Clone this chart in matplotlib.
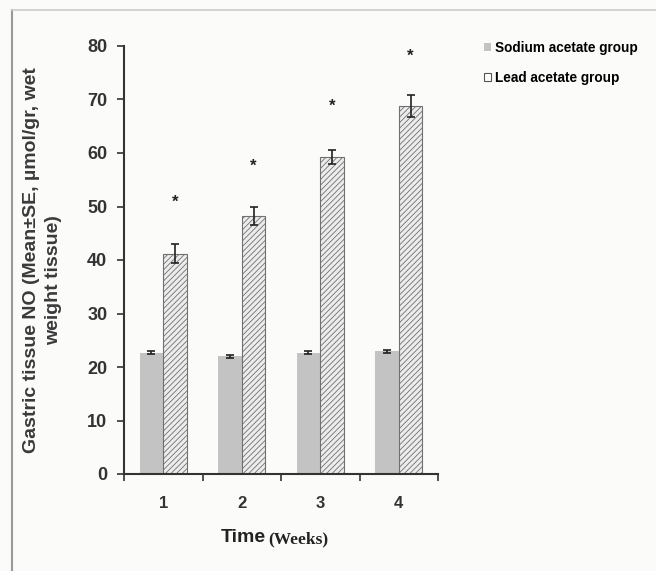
import numpy as np
import matplotlib
matplotlib.use("Agg")
import matplotlib.pyplot as plt
from matplotlib.patches import Patch
from matplotlib.lines import Line2D

# Daten
wochen = ["1", "2", "3", "4"]
natrium = [22.7, 22.0, 22.7, 22.9]
natrium_se = [0.3, 0.3, 0.3, 0.3]
blei = [41.2, 48.3, 59.2, 68.8]
blei_se = [1.7, 1.7, 1.3, 2.0]
stern_y = [50.7, 57.6, 68.8, 78.1]

plt.rcParams["font.family"] = ["Liberation Sans", "DejaVu Sans"]
plt.rcParams["hatch.color"] = "#b0b0b0"
plt.rcParams["hatch.linewidth"] = 0.6

bg = "#fbfbf9"
fig = plt.figure(figsize=(6.56, 5.71), dpi=100, facecolor=bg)
ax = fig.add_axes([124 / 656, 1 - 474 / 571, 314 / 656, 428 / 571])
ax.set_facecolor(bg)

x = np.arange(1, len(wochen) + 1)
b = 0.3
ax.bar(x - b / 2, natrium, b, color="#c3c3c3", edgecolor="none", zorder=2)
ax.errorbar(x - b / 2, natrium, yerr=natrium_se, fmt="none", ecolor="#222222",
            elinewidth=1.2, capsize=3, capthick=1.2, zorder=3)
ax.bar(x + b / 2, blei, b, color="#ececec", edgecolor="#707070", linewidth=0.8,
       hatch="//////", zorder=2)
ax.errorbar(x + b / 2, blei, yerr=blei_se, fmt="none", ecolor="#222222",
            elinewidth=1.2, capsize=3, capthick=1.2, zorder=3)
for xi, yi in zip(x + b / 2, stern_y):
    ax.text(xi, yi, "*", ha="center", va="center", fontsize=12, fontweight="bold",
            color="#222222")

ax.set_xlim(0.5, 4.5)
ax.set_ylim(0, 80)
ax.set_yticks(range(0, 81, 10))
ax.set_xticks(x)
ax.set_xticklabels(wochen)
ax.set_xticks(np.arange(0.5, 4.6, 1), minor=True)
ax.tick_params(axis="x", which="major", length=0, pad=16, labelsize=12)
ax.tick_params(axis="x", which="minor", length=5, width=1.2, direction="out", color="#333333")
ax.tick_params(axis="y", length=5, width=1.2, direction="out", color="#333333",
               labelsize=13, pad=7)
for lbl in ax.get_xticklabels() + ax.get_yticklabels():
    lbl.set_fontweight("bold")
    lbl.set_color("#333333")
for s in ["top", "right"]:
    ax.spines[s].set_visible(False)
for s in ["left", "bottom"]:
    ax.spines[s].set_linewidth(1.5)
    ax.spines[s].set_color("#333333")

# Y-Beschriftung
fig.text(32 / 656, 1 - 260 / 571, "Gastric tissue NO (Mean\u00b1SE, \u00b5mol/gr, wet",
         rotation=90, ha="center", va="center", fontsize=14, fontweight="bold", color="#3a3a3a")
fig.text(54 / 656, 1 - 280 / 571, "weight tissue)", rotation=90, ha="center",
         va="center", fontsize=14, fontweight="bold", color="#3a3a3a")

# X-Beschriftung
fig.text(266 / 656, 1 - 538 / 571, "Time", ha="right", va="center", fontsize=14,
         fontweight="bold", color="#222222")
fig.text(268 / 656, 1 - 539 / 571, "(Weeks)", ha="left", va="center", fontsize=12.5,
         fontweight="bold", family="Liberation Serif", color="#222222")

# Legende
handles = [Patch(facecolor="#c3c3c3", edgecolor="none"),
           Patch(facecolor="white", edgecolor="#555555", linewidth=0.8)]
fig.legend(handles, ["Sodium acetate group", "Lead acetate group"],
           loc="upper left", bbox_to_anchor=(484 / 656, 1 - 41 / 571), frameon=False,
           prop={"weight": "bold", "size": 9.8}, handlelength=0.5, handleheight=0.5,
           handletextpad=0.3, labelspacing=1.15, borderaxespad=0, borderpad=0)

# Rahmen
fig.add_artist(Line2D([12 / 656, 12 / 656], [0, 1 - 10 / 571], color="#999999", lw=1.5))
fig.add_artist(Line2D([12 / 656, 1], [1 - 10 / 571, 1 - 10 / 571], color="#cccccc", lw=1.2))

fig.savefig("out.png", dpi=100, facecolor=bg)
